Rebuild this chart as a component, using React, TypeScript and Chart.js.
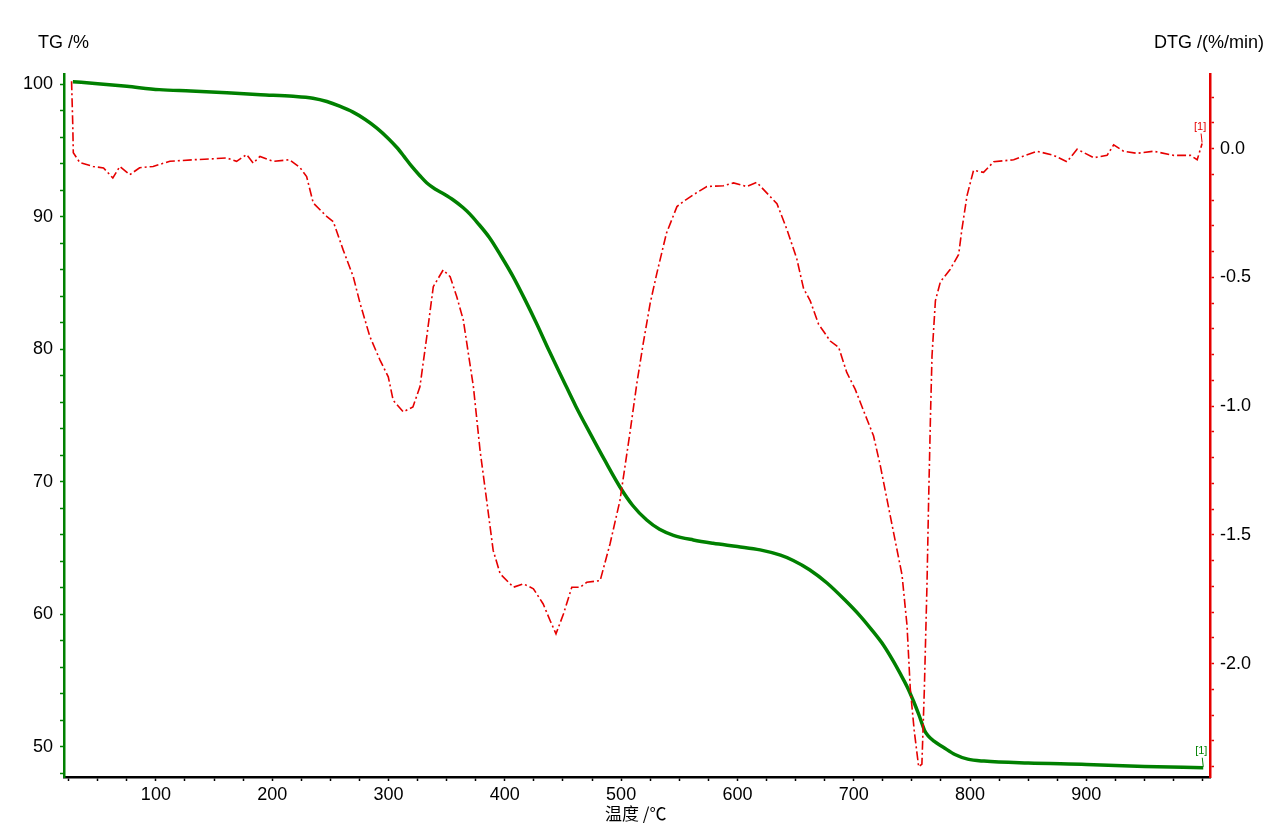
import { useEffect, useRef } from "react"
import { Chart, registerables } from "chart.js"

Chart.register(...registerables)

// TG curve (mass %), temperature in °C
const tgTemp = [
  28.6, 50, 75, 103, 130, 161, 190, 218, 235, 247, 258, 269.5, 280, 290, 300, 307, 313, 320, 327, 333, 340, 348, 356,
  364, 370, 376, 387, 397, 407, 417, 427, 438, 450, 461, 473, 486, 499, 510, 522, 533, 545, 562, 579, 600, 619.5, 637,
  648, 662, 677, 692, 705.6, 716, 725.6, 734, 740, 746, 751.5, 756, 761, 764, 769, 777, 787, 798, 812, 850, 900, 950,
  1000.5,
]
const tgValues = [
  100.2, 100.05, 99.85, 99.6, 99.5, 99.37, 99.22, 99.1, 98.95, 98.7, 98.35, 97.9, 97.35, 96.7, 95.9, 95.25, 94.6,
  93.8, 93.1, 92.55, 92.1, 91.7, 91.25, 90.7, 90.2, 89.6, 88.4, 87.0, 85.5, 83.8, 82.0, 79.9, 77.7, 75.7, 73.7, 71.6,
  69.6, 68.2, 67.1, 66.4, 65.95, 65.6, 65.35, 65.1, 64.85, 64.45, 64.05, 63.35, 62.35, 61.1, 59.85, 58.75, 57.65,
  56.45, 55.5, 54.5, 53.4, 52.4, 51.2, 50.8, 50.4, 49.95, 49.4, 49.05, 48.9, 48.75, 48.65, 48.5, 48.4,
]

// DTG curve (%/min)
const dtgTemp = [
  27.5, 28.5, 29, 34.6, 46, 55, 63, 69, 77.6, 86, 97.6, 112, 132, 146.5, 160.8, 169.4, 178, 183.7, 189.5, 200.9, 215,
  224, 229.6, 235.3, 246.8, 252.5, 261, 269.7, 275.5, 284, 292.7, 299.8, 304, 312.7, 321, 327, 332.9, 338.5, 347, 353,
  358.7, 364.3, 373, 378.7, 384.4, 390, 396, 407.4, 416, 424.6, 433, 439, 444, 450.4, 457.6, 464.7, 470.5, 482, 490.5,
  499, 507.5, 513.5, 519, 525, 530.7, 539, 548, 553.6, 562, 573.7, 588, 596.6, 608, 616.7, 634, 642.5, 651, 656.8,
  662.6, 669.7, 679.8, 687, 694, 701.3, 708.4, 717, 722.8, 728.5, 735.7, 741.5, 745.8, 748.6, 752, 755.8, 758.6, 760.7,
  763, 764.4, 766, 767.3, 770.2, 774.5, 783, 790.2, 793, 797.4, 803, 811.6, 820.3, 837.5, 857.6, 871.9, 883.4, 892,
  906.3, 917.8, 923.5, 932, 943.6, 958, 975, 989.5, 995.3, 999.5,
]
const dtgValues = [
  0.262, 0.1, -0.016, -0.054, -0.069, -0.075, -0.114, -0.069, -0.101, -0.074, -0.069, -0.049, -0.043, -0.04, -0.036,
  -0.049, -0.023, -0.056, -0.03, -0.049, -0.043, -0.074, -0.108, -0.211, -0.263, -0.283, -0.393, -0.497, -0.6, -0.73,
  -0.821, -0.886, -0.977, -1.022, -1.003, -0.925, -0.73, -0.536, -0.471, -0.497, -0.575, -0.665, -0.925, -1.171,
  -1.366, -1.56, -1.651, -1.703, -1.69, -1.709, -1.768, -1.833, -1.884, -1.807, -1.703, -1.703, -1.684, -1.677, -1.534,
  -1.366, -1.106, -0.912, -0.756, -0.6, -0.484, -0.328, -0.225, -0.205, -0.179, -0.147, -0.144, -0.133, -0.147, -0.131,
  -0.214, -0.313, -0.427, -0.542, -0.591, -0.681, -0.747, -0.771, -0.869, -0.935, -1.017, -1.115, -1.23, -1.36, -1.524,
  -1.655, -1.851, -2.097, -2.26, -2.4, -2.39, -2.1, -1.688, -1.36, -1.033, -0.804, -0.591, -0.517, -0.468, -0.411,
  -0.313, -0.182, -0.084, -0.092, -0.051, -0.043, -0.01, -0.026, -0.051, -0.002, -0.035, -0.026, 0.015, -0.01, -0.018,
  -0.01, -0.026, -0.026, -0.043, 0.02,
]

const GREEN = "#008000"
const RED = "#e60000"
const FONT = "'Liberation Sans', Arial, sans-serif"

// "[1]" markers at the end of each curve
const endLabels = {
  id: "endLabels",
  afterDatasetsDraw(chart: Chart) {
    const ctx = chart.ctx
    chart.data.datasets.forEach((ds, i) => {
      const meta = chart.getDatasetMeta(i)
      const pt = meta.data[meta.data.length - 1]
      if (!pt) return
      const color = ds.borderColor as string
      ctx.save()
      ctx.strokeStyle = color
      ctx.lineWidth = 1
      ctx.beginPath()
      ctx.moveTo(pt.x, pt.y - 1)
      ctx.lineTo(pt.x - 1, pt.y - 10)
      ctx.stroke()
      ctx.fillStyle = color
      ctx.font = "11px " + FONT
      ctx.textAlign = "center"
      ctx.textBaseline = "bottom"
      ctx.fillText("[1]", pt.x - 2, pt.y - 11)
      ctx.restore()
    })
  },
}

export default function App() {
  const chartRef = useRef<HTMLCanvasElement>(null)
  const chartInstance = useRef<Chart | null>(null)

  useEffect(() => {
    if (!chartRef.current) return
    if (chartInstance.current) chartInstance.current.destroy()
    const ctx = chartRef.current.getContext("2d")
    if (!ctx) return

    chartInstance.current = new Chart(ctx, {
      type: "line",
      data: {
        datasets: [
          {
            label: "DTG",
            data: dtgTemp.map((t, i) => ({ x: t, y: dtgValues[i] })),
            borderColor: RED,
            borderWidth: 1.6,
            borderDash: [9, 3, 2, 3],
            pointRadius: 0,
            tension: 0,
            yAxisID: "y1",
          },
          {
            label: "TG",
            data: tgTemp.map((t, i) => ({ x: t, y: tgValues[i] })),
            borderColor: GREEN,
            borderWidth: 3.5,
            pointRadius: 0,
            cubicInterpolationMode: "monotone",
            yAxisID: "y",
          },
        ],
      },
      options: {
        responsive: false,
        animation: false,
        layout: { padding: { top: 74, left: 0, right: 0, bottom: 0 } },
        plugins: {
          legend: { display: false },
          tooltip: { enabled: false },
          title: { display: false },
        },
        scales: {
          x: {
            type: "linear",
            min: 21,
            max: 1006.3,
            afterFit: (scale) => {
              scale.height = 63
            },
            border: { color: "#000", width: 2.5 },
            grid: { drawOnChartArea: false, tickLength: 4, tickColor: "#000", tickWidth: 1.5 },
            ticks: {
              stepSize: 25,
              includeBounds: false,
              autoSkip: false,
              maxRotation: 0,
              padding: 3,
              color: "#000",
              font: { size: 18, family: FONT },
              callback: (v) => {
                const n = Math.round(Number(v))
                return n % 100 === 0 && n < 1000 ? String(n) : ""
              },
            },
          },
          y: {
            type: "linear",
            position: "left",
            min: 47.7,
            max: 100.78,
            afterFit: (scale) => {
              scale.width = 64
            },
            border: { color: GREEN, width: 2.5 },
            grid: { drawOnChartArea: false, tickLength: 4, tickColor: GREEN, tickWidth: 1.5 },
            ticks: {
              stepSize: 2,
              includeBounds: false,
              autoSkip: false,
              padding: 7,
              color: "#000",
              font: { size: 18, family: FONT },
              callback: (v) => (Math.round(Number(v)) % 10 === 0 ? String(Math.round(Number(v))) : ""),
            },
          },
          y1: {
            type: "linear",
            position: "right",
            min: -2.44,
            max: 0.29,
            afterFit: (scale) => {
              scale.width = 66
            },
            border: { color: RED, width: 2.5 },
            grid: { drawOnChartArea: false, tickLength: 4, tickColor: RED, tickWidth: 1.5 },
            ticks: {
              stepSize: 0.1,
              includeBounds: false,
              autoSkip: false,
              padding: 6,
              color: "#000",
              font: { size: 18, family: FONT },
              callback: (v) => {
                const n = Math.round(Number(v) * 10)
                return n % 5 === 0 ? (n / 10).toFixed(1) : ""
              },
            },
          },
        },
      },
      plugins: [endLabels],
    })

    return () => {
      if (chartInstance.current) {
        chartInstance.current.destroy()
        chartInstance.current = null
      }
    }
  }, [])

  const title = { position: "absolute" as const, fontFamily: FONT, fontSize: 18, lineHeight: "18px", color: "#000" }

  return (
    <div style={{ position: "fixed", left: 0, top: 0, width: 1276, height: 840, background: "#fff" }}>
      <canvas ref={chartRef} width={1276} height={840} style={{ display: "block" }} />
      <div style={{ ...title, left: 38, top: 33 }}>TG /%</div>
      <div style={{ ...title, left: 1154, top: 33 }}>DTG /(%/min)</div>
      <div
        style={{
          ...title,
          left: 605,
          top: 804,
          fontSize: 17,
          lineHeight: "17px",
          fontFamily: "'Noto Sans CJK SC', 'Liberation Sans', sans-serif",
        }}
      >
        温度 /℃
      </div>
    </div>
  )
}
